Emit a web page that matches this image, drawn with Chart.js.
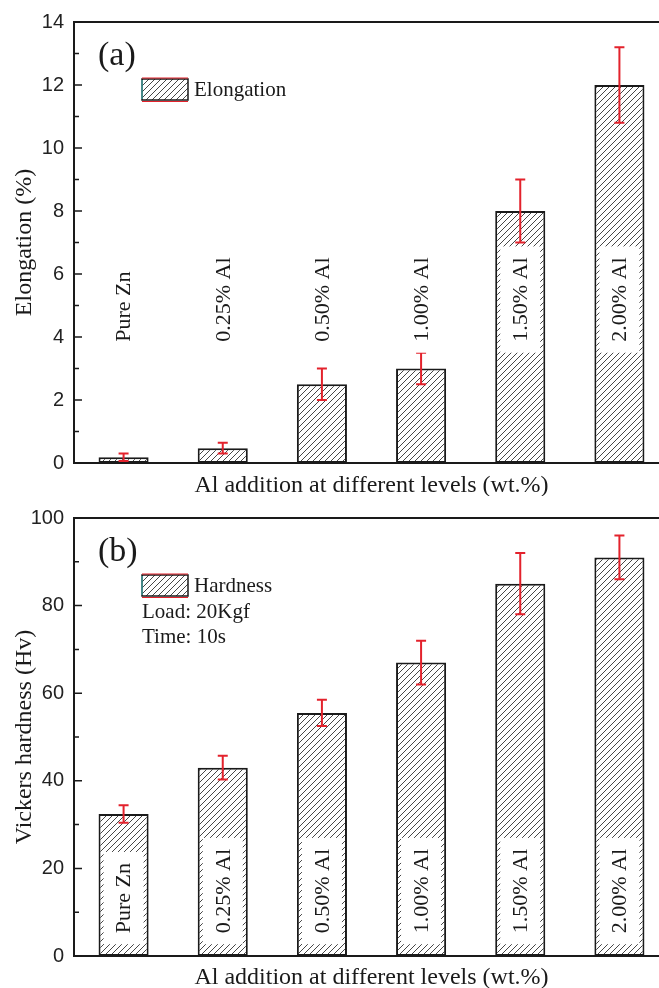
<!DOCTYPE html>
<html>
<head>
<meta charset="utf-8">
<script src="https://cdn.jsdelivr.net/npm/chart.js@4.4.1/dist/chart.umd.min.js"></script>
<style>
  html, body { margin: 0; padding: 0; background: #fff; overflow: hidden; width: 659px; height: 988px; }
  canvas { position: absolute; left: 0; }
  #c1 { top: 0; }
  #c2 { top: 496px; }
</style>
</head>
<body>
<canvas id="c1" width="680" height="496"></canvas>
<canvas id="c2" width="680" height="492"></canvas>
<script>
// data
const categories = ['Pure Zn', '0.25% Al', '0.50% Al', '1.00% Al', '1.50% Al', '2.00% Al'];
const elongation = [0.18, 0.47, 2.5, 3.0, 8.0, 12.0];
const elongationErr = [0.12, 0.17, 0.5, 0.5, 1.0, 1.2];
const hardness = [32.4, 43.0, 55.5, 67.0, 85.0, 91.0];
const hardnessErr = [2.0, 2.7, 3.0, 5.0, 7.0, 5.0];
const elongTicks = [0, 2, 4, 6, 8, 10, 12, 14];
const hardTicks = [0, 20, 40, 60, 80, 100];

const SERIF = '"Liberation Serif", "Times New Roman", serif';
const SANS = '"Liberation Sans", Arial, sans-serif';
const INK = '#1a1a1a';

// diagonal hatch fill like the Origin bars
function hatch(ctx) {
  const t = document.createElement('canvas');
  t.width = 6; t.height = 6;
  const g = t.getContext('2d');
  g.fillStyle = '#fff';
  g.fillRect(0, 0, 6, 6);
  g.strokeStyle = '#474747';
  g.lineWidth = 1;
  g.beginPath();
  g.moveTo(-1, 7); g.lineTo(7, -1);
  g.moveTo(-1, 1); g.lineTo(1, -1);
  g.moveTo(5, 7); g.lineTo(7, 5);
  g.stroke();
  return ctx.createPattern(t, 'repeat');
}

const extras = {
  id: 'extras',
  afterDatasetsDraw(chart, args, o) {
    const { ctx, scales: { y } } = chart;
    const meta = chart.getDatasetMeta(0);
    const vals = chart.data.datasets[0].data;
    ctx.save();
    // error bars
    ctx.strokeStyle = '#e3222c';
    ctx.lineWidth = 2;
    meta.data.forEach((bar, i) => {
      const top = y.getPixelForValue(vals[i] + o.errors[i]);
      const bot = y.getPixelForValue(vals[i] - o.errors[i]);
      ctx.beginPath();
      ctx.moveTo(bar.x, top); ctx.lineTo(bar.x, bot);
      ctx.moveTo(bar.x - 5, top); ctx.lineTo(bar.x + 5, top);
      ctx.moveTo(bar.x - 5, bot); ctx.lineTo(bar.x + 5, bot);
      ctx.stroke();
    });
    // vertical category labels on white boxes
    ctx.font = '22px ' + SERIF;
    const base = y.getPixelForValue(o.labelAt);
    meta.data.forEach((bar, i) => {
      const txt = chart.data.labels[i];
      const w = ctx.measureText(txt).width;
      ctx.fillStyle = '#fff';
      ctx.fillRect(bar.x - 20, base - w - 11, 40, w + 22);
      ctx.save();
      ctx.translate(bar.x, base);
      ctx.rotate(-Math.PI / 2);
      ctx.fillStyle = INK;
      ctx.textAlign = 'left';
      ctx.textBaseline = 'middle';
      ctx.fillText(txt, 0, 1);
      ctx.restore();
    });
    ctx.restore();
  },
  afterDraw(chart, args, o) {
    const { ctx, chartArea: a, scales: { y } } = chart;
    ctx.save();
    // frame
    ctx.strokeStyle = INK;
    ctx.lineWidth = 2;
    ctx.strokeRect(a.left, a.top, a.right - a.left, a.bottom - a.top);
    // inward ticks, major + minor
    ctx.lineWidth = 1.5;
    const ticks = y.ticks.map(t => t.value);
    ctx.beginPath();
    ticks.forEach((v, i) => {
      const py = y.getPixelForValue(v);
      ctx.moveTo(a.left, py); ctx.lineTo(a.left + 8, py);
      if (i < ticks.length - 1) {
        const my = y.getPixelForValue((v + ticks[i + 1]) / 2);
        ctx.moveTo(a.left, my); ctx.lineTo(a.left + 5, my);
      }
    });
    ctx.stroke();
    // panel letter
    ctx.fillStyle = INK;
    ctx.font = '34px ' + SERIF;
    ctx.textBaseline = 'middle';
    ctx.fillText(o.panel, a.left + 24, a.top + 34);
    // legend
    const bx = a.left + 68, by = a.top + 57, bw = 46, bh = 21;
    ctx.fillStyle = o.pattern;
    ctx.fillRect(bx, by, bw, bh);
    ctx.strokeStyle = INK;
    ctx.lineWidth = 1.5;
    ctx.strokeRect(bx, by, bw, bh);
    ctx.strokeStyle = '#e3222c';
    ctx.lineWidth = 1;
    ctx.beginPath();
    ctx.moveTo(bx, by - 1); ctx.lineTo(bx + bw, by - 1);
    ctx.moveTo(bx, by + bh + 1.5); ctx.lineTo(bx + bw, by + bh + 1.5);
    ctx.stroke();
    ctx.strokeStyle = '#3cc0c0';
    ctx.beginPath();
    ctx.moveTo(bx, by + 1); ctx.lineTo(bx, by + bh - 1);
    ctx.stroke();
    ctx.fillStyle = INK;
    ctx.font = '21px ' + SERIF;
    ctx.fillText(o.legend, bx + bw + 6, by + bh / 2 + 1);
    o.notes.forEach((n, k) => ctx.fillText(n, bx, by + bh / 2 + 27 + 25 * k));
    ctx.restore();
  }
};

function makeChart(id, values, errors, tickVals, yTitle, pad, xh, extra) {
  const ctx = document.getElementById(id).getContext('2d');
  const pattern = hatch(ctx);
  return new Chart(ctx, {
    type: 'bar',
    data: {
      labels: categories,
      datasets: [{
        data: values,
        backgroundColor: pattern,
        borderColor: INK,
        borderWidth: 2,
        borderSkipped: false,
        barPercentage: 0.505,
        categoryPercentage: 1
      }]
    },
    options: {
      responsive: false,
      animation: false,
      layout: { padding: { top: pad, right: 11, left: 0, bottom: 0 } },
      plugins: {
        legend: { display: false },
        tooltip: { enabled: false },
        extras: Object.assign({ errors: errors, pattern: pattern }, extra)
      },
      scales: {
        x: {
          grid: { display: false, drawTicks: false },
          border: { display: false },
          ticks: { display: false },
          title: {
            display: true,
            text: 'Al addition at different levels (wt.%)',
            color: INK,
            font: { family: SERIF, size: 24, lineHeight: 0.85 },
            padding: 0
          },
          afterFit: s => { s.height = xh; }
        },
        y: {
          min: tickVals[0],
          max: tickVals[tickVals.length - 1],
          afterBuildTicks: s => { s.ticks = tickVals.map(v => ({ value: v })); },
          grid: { display: false, drawTicks: false },
          border: { display: false },
          ticks: { color: '#222', padding: 10, font: { family: SANS, size: 20 } },
          title: {
            display: true,
            text: yTitle,
            color: INK,
            font: { family: SERIF, size: 24, lineHeight: 1 },
            padding: { top: 13, bottom: 0 }
          },
          afterFit: s => { s.width = 74; }
        }
      }
    },
    plugins: [extras]
  });
}

makeChart('c1', elongation, elongationErr, elongTicks, 'Elongation (%)', 22, 33,
  { labelAt: 3.85, panel: '(a)', legend: 'Elongation', notes: [] });
makeChart('c2', hardness, hardnessErr, hardTicks, 'Vickers hardness (Hv)', 18, 32,
  { labelAt: 5.2, panel: '(b)', legend: 'Hardness', notes: ['Load: 20Kgf', 'Time: 10s'] });
</script>
</body>
</html>
